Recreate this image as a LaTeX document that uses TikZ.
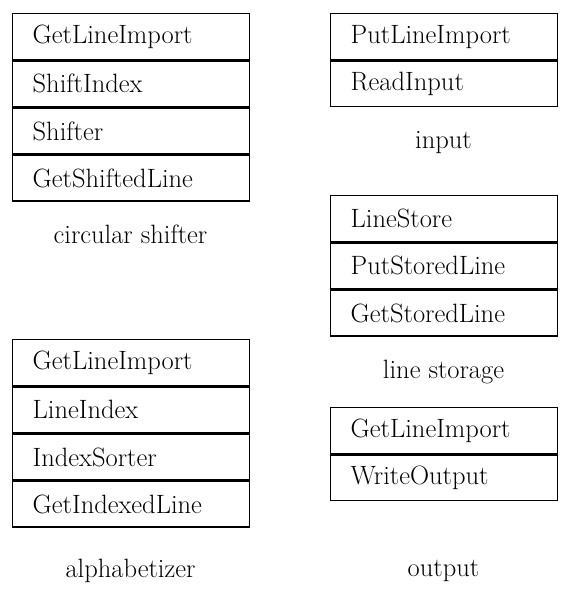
\documentclass[tikz,border=0pt]{standalone}
\begin{document}
\begin{tikzpicture}[x=1pt,y=-1pt,
  cellL/.style={draw, line width=1.4pt, rectangle, anchor=north west, inner xsep=20pt, inner ysep=0pt,
    text width=197pt, align=left, minimum height=45.8pt, font=\fontsize{26.5}{30}\selectfont},
  cellR/.style={cellL, text width=187pt},
  boxlabel/.style={font=\fontsize{26.5}{30}\selectfont, inner sep=0pt}]
\useasboundingbox (0,0) rectangle (568,591);
% circular shifter
\node[cellL] (cs1) at (12,13) {GetLineImport};
\node[cellL] (cs2) at (cs1.south west) {ShiftIndex};
\node[cellL] (cs3) at (cs2.south west) {Shifter};
\node[cellL] (cs4) at (cs3.south west) {GetShiftedLine};
\node[boxlabel] (csl) at (130.5,234) {circular shifter};
% alphabetizer
\node[cellL] (al1) at (12,339) {GetLineImport};
\node[cellL] (al2) at (al1.south west) {LineIndex};
\node[cellL] (al3) at (al2.south west) {IndexSorter};
\node[cellL] (al4) at (al3.south west) {GetIndexedLine};
\node[boxlabel] (all) at (130.5,571) {alphabetizer};
% input
\node[cellR] (in1) at (330,13) {PutLineImport};
\node[cellR] (in2) at (in1.south west) {ReadInput};
\node[boxlabel] (inl) at (443.5,143) {input};
% line storage
\node[cellR] (ls1) at (330,195) {LineStore};
\node[cellR] (ls2) at (ls1.south west) {PutStoredLine};
\node[cellR] (ls3) at (ls2.south west) {GetStoredLine};
\node[boxlabel] (lsl) at (443.5,372) {line storage};
% output
\node[cellR] (ou1) at (330,407) {GetLineImport};
\node[cellR] (ou2) at (ou1.south west) {WriteOutput};
\node[boxlabel] (oul) at (443.5,571) {output};
\end{tikzpicture}
\end{document}
